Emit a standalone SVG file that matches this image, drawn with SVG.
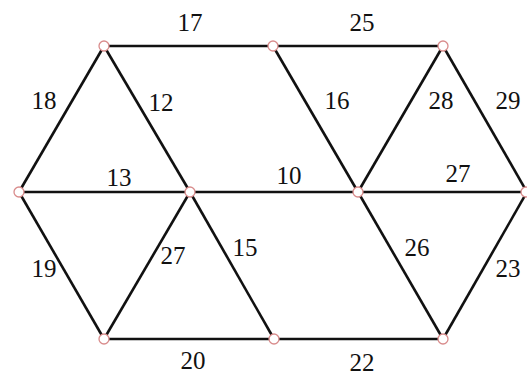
<svg xmlns="http://www.w3.org/2000/svg" width="527" height="376" viewBox="0 0 527 376">
<style>
.e{stroke:#111;stroke-width:2.6;fill:none}
.n{fill:#fff;stroke:#d98c8c;stroke-width:1.3}
text{font-family:"Liberation Serif","Times New Roman",serif;font-size:25px;fill:#111;text-anchor:middle}
</style>
<rect width="527" height="376" fill="#fff"/>
<g id="connectors">
<line class="e" x1="104" y1="46" x2="273" y2="46"/>
<line class="e" x1="273" y1="46" x2="443" y2="46"/>
<line class="e" x1="104" y1="46" x2="19" y2="192"/>
<line class="e" x1="104" y1="46" x2="190" y2="192"/>
<line class="e" x1="273" y1="46" x2="358" y2="192"/>
<line class="e" x1="443" y1="46" x2="358" y2="192"/>
<line class="e" x1="443" y1="46" x2="527" y2="192"/>
<line class="e" x1="19" y1="192" x2="527" y2="192"/>
<line class="e" x1="19" y1="192" x2="104" y2="339"/>
<line class="e" x1="190" y1="192" x2="104" y2="339"/>
<line class="e" x1="190" y1="192" x2="274" y2="339"/>
<line class="e" x1="358" y1="192" x2="443" y2="339"/>
<line class="e" x1="527" y1="192" x2="443" y2="339"/>
<line class="e" x1="104" y1="339" x2="443" y2="339"/>
<text x="190" y="31">17</text>
<text x="362" y="31">25</text>
<text x="44" y="109">18</text>
<text x="161" y="111">12</text>
<text x="119" y="186">13</text>
<text x="337" y="109">16</text>
<text x="441" y="109">28</text>
<text x="508" y="109">29</text>
<text x="289" y="184">10</text>
<text x="458" y="182">27</text>
<text x="44" y="277">19</text>
<text x="173" y="264">27</text>
<text x="245" y="256">15</text>
<text x="193" y="369">20</text>
<text x="417" y="256">26</text>
<text x="508" y="277">23</text>
<text x="362" y="371">22</text>
</g>
<g id="A"><circle class="n" cx="104" cy="46" r="5"/></g>
<g id="B"><circle class="n" cx="273" cy="46" r="5"/></g>
<g id="C"><circle class="n" cx="443" cy="46" r="5"/></g>
<g id="D"><circle class="n" cx="19" cy="192" r="5"/></g>
<g id="E"><circle class="n" cx="190" cy="192" r="5"/></g>
<g id="F"><circle class="n" cx="358" cy="192" r="5"/></g>
<g id="G"><circle class="n" cx="526" cy="192" r="5"/></g>
<g id="H"><circle class="n" cx="104" cy="339" r="5"/></g>
<g id="I"><circle class="n" cx="274" cy="339" r="5"/></g>
<g id="J"><circle class="n" cx="443" cy="339" r="5"/></g>
</svg>
